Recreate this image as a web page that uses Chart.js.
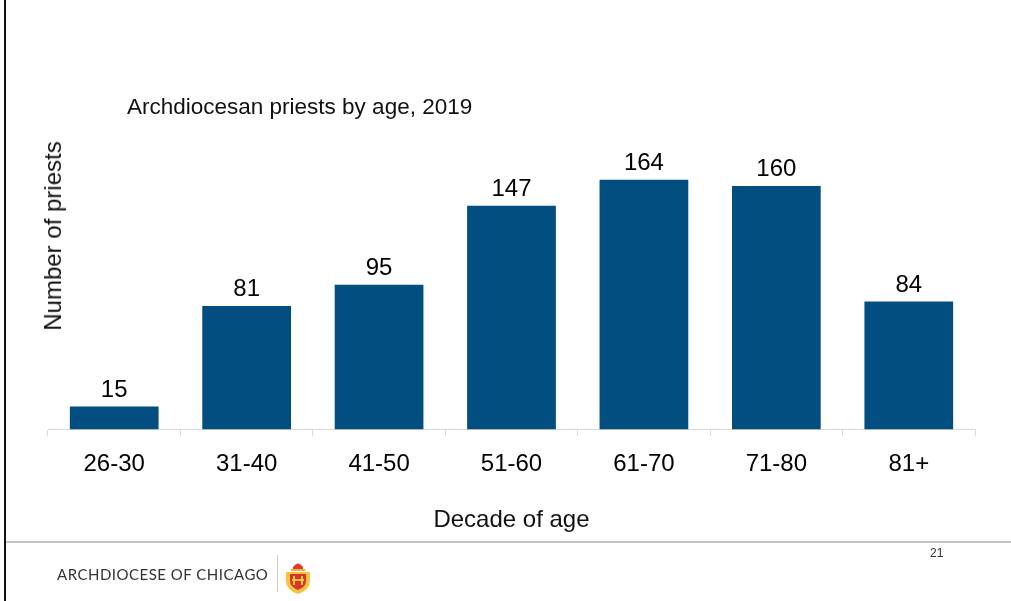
<!DOCTYPE html>
<html>
<head>
<meta charset="utf-8">
<script src="https://cdn.jsdelivr.net/npm/chart.js@4"></script>
<style>
  html, body { margin: 0; padding: 0; background: #fff; }
  body { width: 1011px; height: 601px; position: relative; overflow: hidden; font-family: "Liberation Sans", Arial, sans-serif; }
  #wrap { position: absolute; left: 0; top: 0; width: 1011px; height: 601px; }
  .edge { position: absolute; left: 4px; top: 0; width: 2px; height: 601px; background: #111; }
  .rule { position: absolute; left: 6px; right: 0; top: 541px; height: 2px; background: #c4c4c4; }
  .subtitle { position: absolute; left: 127px; top: 94px; font-size: 22.5px; color: #111; white-space: nowrap; }
  .ytitle { position: absolute; left: 53px; top: 236px; font-size: 24px; color: #111; white-space: nowrap;
            transform: translate(-50%, -50%) rotate(-90deg); }
  .brand { position: absolute; left: 57px; top: 565px; font-family: Lato, "Noto Sans", sans-serif; font-size: 15px;
           letter-spacing: 0.5px; color: #333; white-space: nowrap; }
  .sep { position: absolute; left: 277px; top: 555px; width: 1px; height: 37px; background: #ccc; }
  .logo { position: absolute; left: 284px; top: 561px; }
  .page { position: absolute; left: 930px; top: 546px; font-size: 12px; color: #333; }
</style>
</head>
<body>
<div id="wrap"><canvas id="chart" width="1011" height="601"></canvas></div>
<div class="edge"></div>
<div class="rule"></div>
<div class="subtitle">Archdiocesan priests by age, 2019</div>
<div class="ytitle">Number of priests</div>
<div class="brand">ARCHDIOCESE OF CHICAGO</div>
<div class="sep"></div>
<svg class="logo" width="28" height="34" viewBox="0 0 28 34">
  <path d="M9 6 Q14 -1 19 6 L19 9 L9 9 Z" fill="#e03a2a"/>
  <rect x="7" y="8" width="14" height="2" fill="#f2b233"/>
  <path d="M2 11 L26 11 L26 20 Q26 29 14 33 Q2 29 2 20 Z" fill="#f6c342"/>
  <path d="M6 13 L22 13 L22 20 Q22 26 14 29 Q6 26 6 20 Z" fill="#d8342a"/>
  <rect x="9" y="15" width="2" height="9" fill="#f6c342"/>
  <rect x="17" y="15" width="2" height="9" fill="#f6c342"/>
  <rect x="8" y="18" width="12" height="2" fill="#f6c342"/>
</svg>
<div class="page">21</div>

<script>
const categories = ['26-30', '31-40', '41-50', '51-60', '61-70', '71-80', '81+'];
const priests = [15, 81, 95, 147, 164, 160, 84];
const yMax = 200;

const FONT = '"Liberation Sans", Arial, sans-serif';

// value labels above each bar
const barLabels = {
  id: 'barLabels',
  afterDatasetsDraw(chart) {
    const { ctx } = chart;
    const meta = chart.getDatasetMeta(0);
    ctx.save();
    ctx.font = '24px ' + FONT;
    ctx.fillStyle = '#000';
    ctx.textAlign = 'center';
    ctx.textBaseline = 'alphabetic';
    meta.data.forEach((bar, i) => {
      ctx.fillText(String(chart.data.datasets[0].data[i]), bar.x, bar.y - 10);
    });
    ctx.restore();
  }
};

new Chart(document.getElementById('chart'), {
  type: 'bar',
  data: {
    labels: categories,
    datasets: [{
      data: priests,
      backgroundColor: '#024e80',
      borderWidth: 0,
      categoryPercentage: 1,
      barPercentage: 0.67
    }]
  },
  options: {
    responsive: false,
    animation: false,
    layout: { padding: { left: 48, right: 36, top: 125, bottom: 66 } },
    plugins: {
      legend: { display: false },
      tooltip: { enabled: false }
    },
    scales: {
      x: {
        grid: { offset: true, drawOnChartArea: false, drawTicks: true, tickLength: 7, color: '#d9d9d9' },
        border: { display: true, color: '#d9d9d9', width: 1 },
        ticks: { color: '#000', font: { family: FONT, size: 24 }, padding: 14 },
        title: {
          display: true,
          text: 'Decade of age',
          color: '#111',
          font: { family: FONT, size: 24 },
          padding: { top: 13, bottom: 0 }
        }
      },
      y: { display: false, min: 0, max: yMax }
    }
  },
  plugins: [barLabels]
});
</script>
</body>
</html>
